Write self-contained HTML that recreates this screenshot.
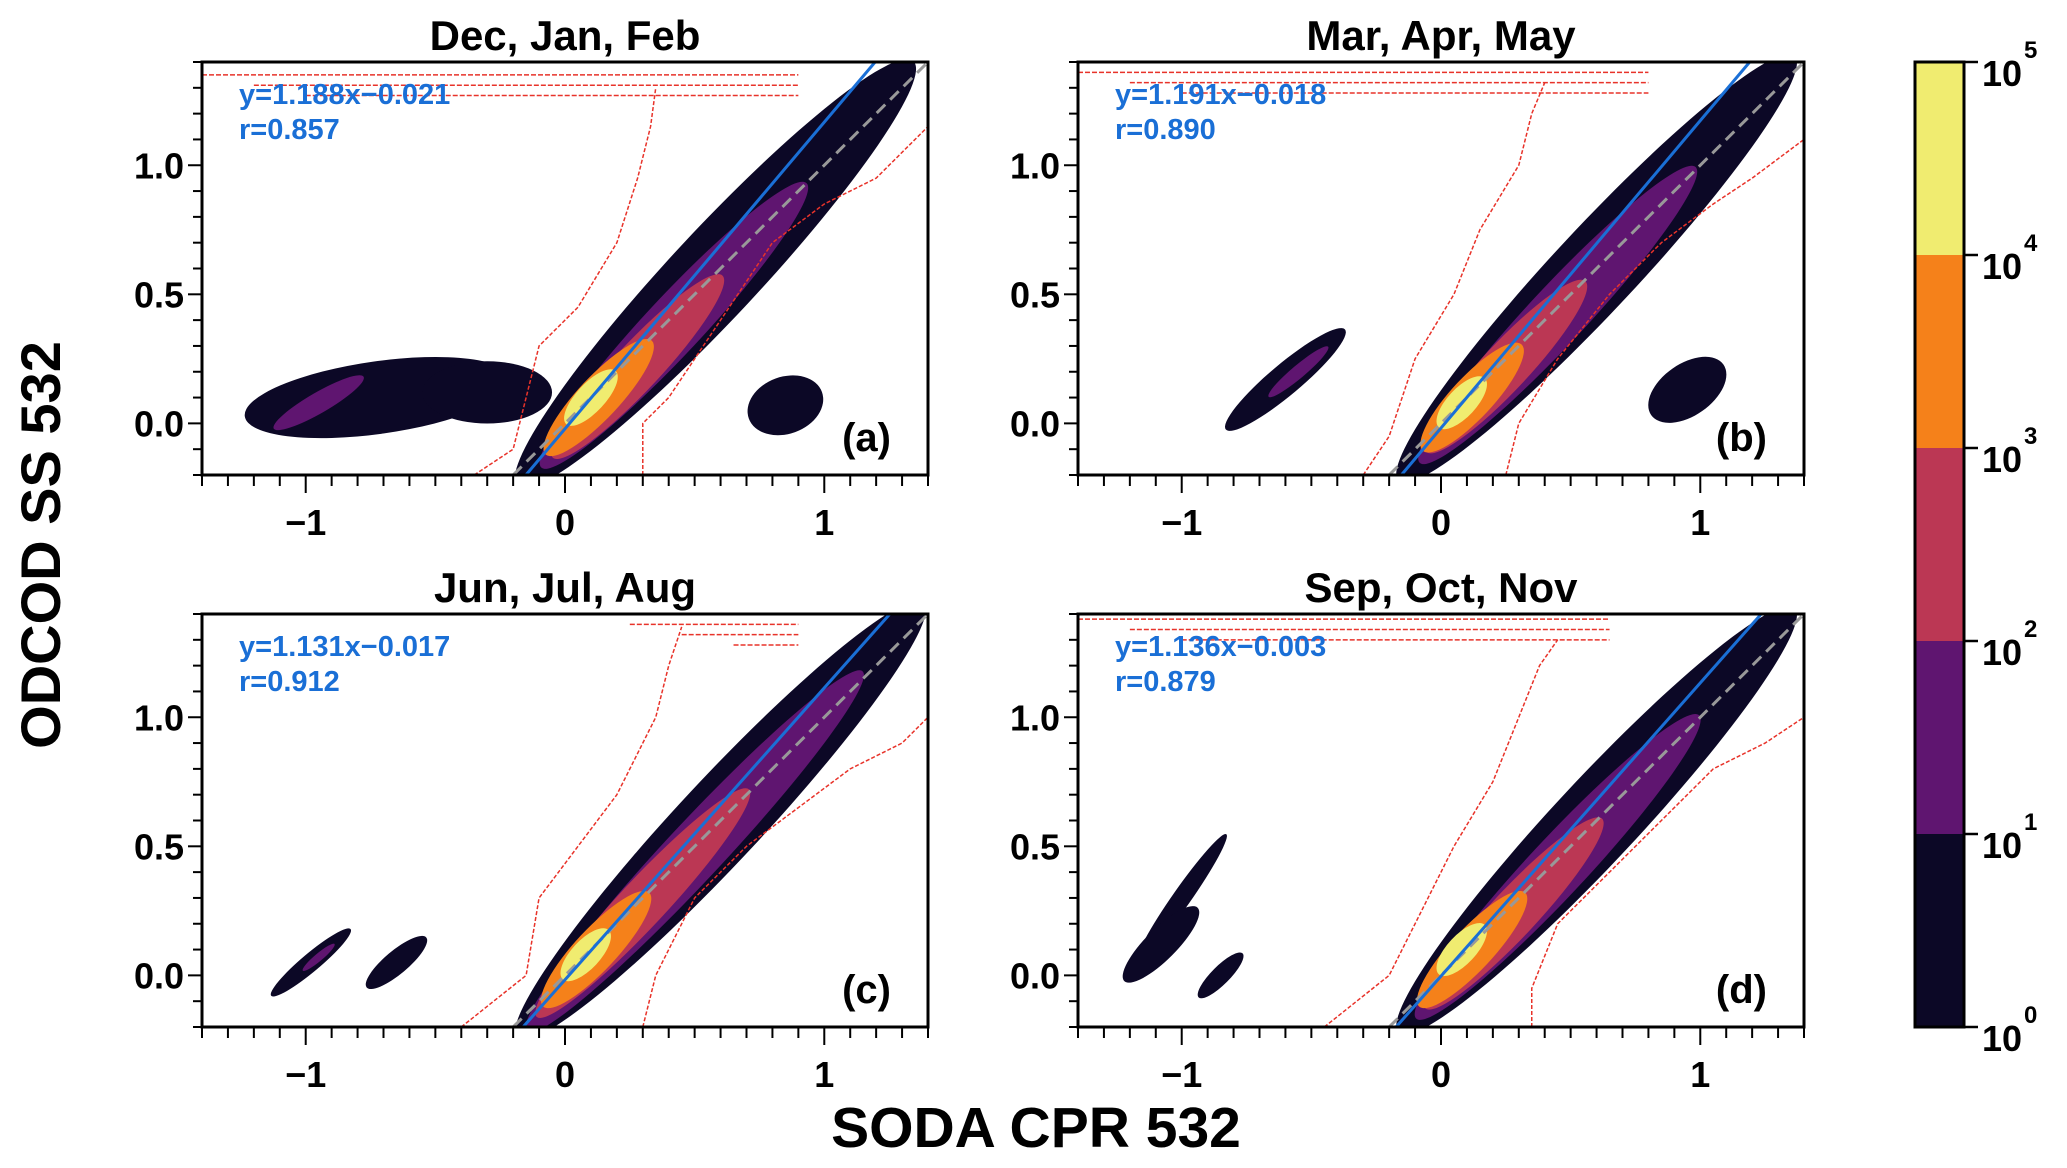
<!DOCTYPE html>
<html><head><meta charset="utf-8"><style>
body{margin:0;background:#fff}
svg text{font-family:"Liberation Sans",sans-serif;font-weight:bold}
</style></head><body>
<svg id="fig" width="2067" height="1163" viewBox="0 0 2067 1163" xmlns="http://www.w3.org/2000/svg">
<text x="0" y="0" transform="translate(60,545) rotate(-90)" text-anchor="middle" font-size="56">ODCOD SS 532</text>
<text x="1036" y="1147" text-anchor="middle" font-size="57">SODA CPR 532</text>
</svg>
<script>
const panelTitles=["Dec, Jan, Feb","Mar, Apr, May","Jun, Jul, Aug","Sep, Oct, Nov"];
const panelLetters=["(a)","(b)","(c)","(d)"];
const slopes=[1.188,1.191,1.131,1.136];
const intercepts=[-0.021,-0.018,-0.017,-0.003];
const corrs=["0.857","0.890","0.912","0.879"];
const xTicks=[-1,0,1];
const yTicks=[0.0,0.5,1.0];
const yTickLabels=["0.0","0.5","1.0"];
const levelColors=["#0c0826","#5f1570","#bb3754","#f5811a","#f0ec70"];
// main density band levels per panel: [cx,cy,halfLen,halfWid] along 45deg
const bandA=[[0.58,0.58,1.12,0.17],[0.42,0.38,0.75,0.11],[0.28,0.22,0.48,0.09],[0.13,0.1,0.3,0.08],[0.1,0.1,0.14,0.055]];
const bandB=[[0.6,0.6,1.12,0.16],[0.45,0.42,0.78,0.11],[0.25,0.22,0.45,0.09],[0.12,0.1,0.28,0.08],[0.08,0.08,0.13,0.055]];
const bandC=[[0.6,0.6,1.15,0.16],[0.5,0.48,0.95,0.11],[0.3,0.28,0.6,0.09],[0.12,0.1,0.3,0.08],[0.08,0.08,0.13,0.055]];
const bandD=[[0.6,0.6,1.12,0.16],[0.45,0.42,0.8,0.11],[0.28,0.24,0.5,0.09],[0.12,0.1,0.3,0.08],[0.08,0.1,0.13,0.055]];
const bands=[bandA,bandB,bandC,bandD];
// secondary clusters: [cx,cy,a,b,angleDeg,level]
const clustersA=[[-0.72,0.1,0.52,0.14,8,0],[-0.95,0.08,0.2,0.04,30,1],[-0.3,0.12,0.25,0.12,0,0],[0.85,0.07,0.15,0.11,20,0]];
const clustersB=[[-0.6,0.17,0.3,0.06,40,0],[-0.55,0.2,0.15,0.025,40,1],[0.95,0.13,0.17,0.1,35,0]];
const clustersC=[[-0.98,0.05,0.2,0.035,40,0],[-0.95,0.07,0.08,0.015,40,1],[-0.65,0.05,0.15,0.045,40,0]];
const clustersD=[[-1.0,0.3,0.3,0.035,55,0],[-1.08,0.12,0.2,0.06,45,0],[-0.85,0.0,0.12,0.035,45,0]];
const clusters=[clustersA,clustersB,clustersC,clustersD];
// red dashed envelope lines
const leftEnv=[
 [[-0.35,-0.2],[-0.2,-0.1],[-0.15,0.1],[-0.1,0.3],[0.05,0.45],[0.2,0.7],[0.28,0.95],[0.33,1.15],[0.35,1.3]],
 [[-0.3,-0.2],[-0.2,-0.05],[-0.1,0.25],[0.05,0.5],[0.15,0.75],[0.3,1.0],[0.35,1.2],[0.4,1.32]],
 [[-0.4,-0.2],[-0.15,0.0],[-0.1,0.3],[0.05,0.5],[0.2,0.7],[0.35,1.0],[0.4,1.2],[0.45,1.35]],
 [[-0.45,-0.2],[-0.2,0.0],[-0.05,0.3],[0.05,0.5],[0.2,0.75],[0.3,1.0],[0.38,1.2],[0.45,1.3]]];
const rightEnv=[
 [[0.3,-0.2],[0.3,0.0],[0.4,0.1],[0.6,0.4],[0.8,0.7],[1.0,0.85],[1.2,0.95],[1.4,1.15]],
 [[0.25,-0.2],[0.3,0.0],[0.45,0.25],[0.65,0.5],[0.85,0.7],[1.05,0.85],[1.2,0.95],[1.4,1.1]],
 [[0.3,-0.2],[0.35,0.0],[0.5,0.3],[0.7,0.5],[0.9,0.65],[1.1,0.8],[1.3,0.9],[1.4,1.0]],
 [[0.35,-0.2],[0.35,-0.05],[0.45,0.2],[0.65,0.4],[0.85,0.6],[1.05,0.8],[1.25,0.9],[1.4,1.0]]];
const topEnvY=[1.35,1.36,1.36,1.38];
const topEnvX0=[-1.4,-1.4,0.25,-1.4];
const topEnvX1=[0.9,0.8,0.9,0.65];
const cbLabels=["0","1","2","3","4","5"];

const NS="http://www.w3.org/2000/svg";
const svg=document.getElementById('fig');
function mk(tag,attrs,parent){const e=document.createElementNS(NS,tag);for(const k in attrs)e.setAttribute(k,attrs[k]);(parent||svg).appendChild(e);return e;}
const geo=[[202,62],[1078,62],[202,614],[1078,614]];
const PW=726,PH=413,XMIN=-1.4,XMAX=1.4,YMIN=-0.2,YMAX=1.4;
for(let p=0;p<4;p++){
 const [L,T]=geo[p];
 const sx=v=>L+(v-XMIN)/(XMAX-XMIN)*PW;
 const sy=v=>T+PH-(v-YMIN)/(YMAX-YMIN)*PH;
 const ux=PW/(XMAX-XMIN);
 const g=mk('g',{});
 
 
 const cp=mk('clipPath',{id:'cp'+p},g);mk('rect',{x:L,y:T,width:PW,height:PH},cp);
 const plot=mk('g',{'clip-path':'url(#cp'+p+')'},g);
 clusters[p].forEach(c=>{
  const e=mk('ellipse',{cx:sx(c[0]),cy:sy(c[1]),rx:c[2]*ux,ry:c[3]*ux,fill:levelColors[c[5]],transform:`rotate(${-c[4]} ${sx(c[0])} ${sy(c[1])})`},plot);
  
  
 });
 bands[p].forEach((b,i)=>{
  const e=mk('ellipse',{cx:sx(b[0]),cy:sy(b[1]),rx:b[2]*ux,ry:b[3]*ux,fill:levelColors[i],transform:`rotate(-47 ${sx(b[0])} ${sy(b[1])})`},plot);
  
  
 });
 [leftEnv[p],rightEnv[p]].forEach(env=>{
  const pl=mk('polyline',{points:env.map(q=>sx(q[0])+','+sy(q[1])).join(' '),fill:'none',stroke:'#e8332a','stroke-width':1.5,'stroke-dasharray':'4,2'},plot);
  
  
 });
 for(let k=0;k<3;k++){
  const ln=mk('line',{x1:sx(topEnvX0[p]+k*0.2),x2:sx(topEnvX1[p]),y1:sy(topEnvY[p]-k*0.04),y2:sy(topEnvY[p]-k*0.04),stroke:'#e8332a','stroke-width':1.5,'stroke-dasharray':'5,2'},plot);
  
  
 }
 const gl=mk('line',{x1:sx(-0.2),y1:sy(-0.2),x2:sx(1.4),y2:sy(1.4),stroke:'#999','stroke-width':3,'stroke-dasharray':'12,7'},plot);
 
 
 const m=slopes[p],b=intercepts[p];
 const xa=(YMIN-b)/m,xb=(YMAX-b)/m;
 const bl=mk('line',{x1:sx(xa),y1:sy(YMIN),x2:sx(xb),y2:sy(YMAX),stroke:'#1a6fd6','stroke-width':3},plot);
 
 
 const fr=mk('rect',{x:L,y:T,width:PW,height:PH,fill:'none',stroke:'#000','stroke-width':3},g);
 
 
 for(let i=-14;i<=14;i++){const v=i/10,X=sx(v),maj=(i%10===0);
  mk('line',{x1:X,x2:X,y1:T+PH,y2:T+PH+(maj?18:11),stroke:'#000','stroke-width':2},g);}
 for(let i=-2;i<=14;i++){const v=i/10,Y=sy(v),maj=(i%5===0);
  mk('line',{x1:L,x2:L-(maj?14:9),y1:Y,y2:Y,stroke:'#000','stroke-width':2},g);}
 xTicks.forEach(v=>{const t=mk('text',{x:sx(v),y:T+PH+60,'text-anchor':'middle','font-size':36},g);t.textContent=v<0?'\u2212'+Math.abs(v):String(v);
  });
 yTicks.forEach((v,i)=>{const t=mk('text',{x:L-18,y:sy(v)+13,'text-anchor':'end','font-size':36},g);t.textContent=yTickLabels[i];
  });
 const tt=mk('text',{x:L+PW/2,y:T-12,'text-anchor':'middle','font-size':42},g);tt.textContent=panelTitles[p];
 
 const e1=mk('text',{x:L+37,y:T+42,'font-size':29,fill:'#1a6fd6'},g);e1.textContent='y='+m.toFixed(3)+'x\u2212'+Math.abs(b).toFixed(3);
 
 const e2=mk('text',{x:L+37,y:T+77,'font-size':29,fill:'#1a6fd6'},g);e2.textContent='r='+corrs[p];
 
 const lt=mk('text',{x:L+PW-37,y:T+PH-24,'text-anchor':'end','font-size':40},g);lt.textContent=panelLetters[p];
 
}
// colorbar
const cbL=1915,cbW=49,cbT=62,cbB=1027,seg=(cbB-cbT)/5;
const cb=mk('g',{});


for(let i=0;i<5;i++){mk('rect',{x:cbL,y:cbB-(i+1)*seg,width:cbW,height:seg,fill:levelColors[i]},cb);}
mk('rect',{x:cbL,y:cbT,width:cbW,height:cbB-cbT,fill:'none',stroke:'#000','stroke-width':3},cb);
cbLabels.forEach((s,i)=>{const Y=cbB-i*seg;
 mk('line',{x1:cbL+cbW,x2:cbL+cbW+14,y1:Y,y2:Y,stroke:'#000','stroke-width':2.5},cb);
 const t=mk('text',{x:cbL+cbW+18,y:Y+24,'font-size':36},cb);t.textContent='10';
 
 const s2=mk('text',{x:cbL+cbW+60,y:Y-4,'font-size':24},cb);s2.textContent=s;});
</script>
</body></html>
